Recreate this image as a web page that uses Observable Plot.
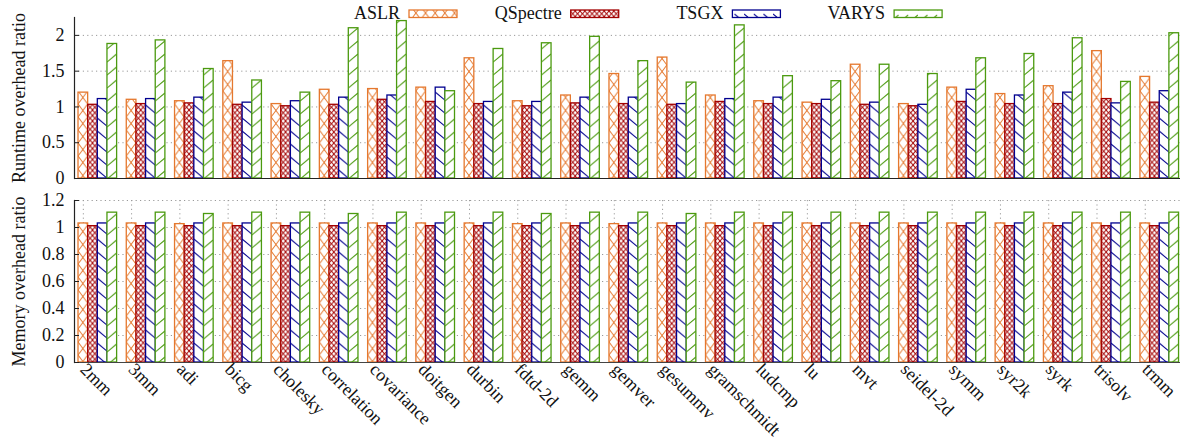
<!DOCTYPE html>
<html><head><meta charset="utf-8">
<script src="https://cdn.jsdelivr.net/npm/d3@7"></script>
<script src="https://cdn.jsdelivr.net/npm/@observablehq/plot@0.6"></script>
<style>
html,body{margin:0;padding:0;background:#fff;}
#wrap{position:relative;width:1180px;height:446px;font-family:"Liberation Serif",serif;overflow:hidden;}
#wrap svg{display:block;}
#legend{position:absolute;left:0;top:0;}
#defs{position:absolute;left:0;top:0;}
</style></head>
<body>
<svg id="defs" width="0" height="0"></svg>
<div id="wrap"><div id="topchart"></div><div id="bottomchart"></div><svg id="legend" width="1180" height="26"></svg></div>
<script>
const categories = ["2mm","3mm","adi","bicg","cholesky","correlation","covariance","doitgen","durbin","fdtd-2d","gemm","gemver","gesummv","gramschmidt","ludcmp","lu","mvt","seidel-2d","symm","syr2k","syrk","trisolv","trmm"];
const series = ["ASLR","QSpectre","TSGX","VARYS"];
const colors = ["#e5782e","#a30000","#00008f","#4b9a0f"];

const runtimeASLR     = [1.20,1.10,1.08,1.64,1.04,1.24,1.25,1.27,1.68,1.08,1.16,1.46,1.69,1.16,1.08,1.06,1.59,1.04,1.27,1.18,1.29,1.78,1.42];
const runtimeQSpectre = [1.03,1.04,1.05,1.03,1.01,1.03,1.10,1.07,1.04,1.01,1.05,1.04,1.03,1.07,1.04,1.04,1.03,1.01,1.07,1.04,1.04,1.11,1.06];
const runtimeTSGX     = [1.11,1.11,1.13,1.06,1.08,1.13,1.16,1.27,1.07,1.07,1.13,1.13,1.04,1.11,1.13,1.10,1.06,1.03,1.24,1.16,1.20,1.05,1.22];
const runtimeVARYS    = [1.88,1.93,1.53,1.37,1.20,2.10,2.20,1.22,1.81,1.89,1.98,1.64,1.34,2.14,1.43,1.36,1.59,1.46,1.68,1.74,1.96,1.35,2.03];

const memoryASLR     = [1.03,1.03,1.025,1.03,1.03,1.03,1.03,1.03,1.03,1.025,1.03,1.025,1.03,1.03,1.03,1.03,1.03,1.03,1.03,1.03,1.03,1.03,1.03];
const memoryQSpectre = [1.01,1.01,1.01,1.01,1.01,1.01,1.01,1.01,1.01,1.01,1.01,1.01,1.01,1.01,1.01,1.01,1.01,1.01,1.01,1.01,1.01,1.01,1.01];
const memoryTSGX     = [1.03,1.03,1.03,1.03,1.03,1.03,1.03,1.03,1.03,1.03,1.03,1.03,1.03,1.03,1.03,1.03,1.03,1.03,1.03,1.03,1.03,1.03,1.03];
const memoryVARYS    = [1.11,1.11,1.10,1.11,1.11,1.10,1.11,1.11,1.11,1.10,1.11,1.11,1.10,1.11,1.11,1.11,1.11,1.11,1.11,1.11,1.11,1.11,1.11];

const runtimeTicks = [0,0.5,1,1.5,2];
const memoryTicks = [0,0.2,0.4,0.6,0.8,1,1.2];

const runtimeVals = [runtimeASLR, runtimeQSpectre, runtimeTSGX, runtimeVARYS];
const memoryVals = [memoryASLR, memoryQSpectre, memoryTSGX, memoryVARYS];

function table(vals) {
  const out = [];
  series.forEach((s, k) => categories.forEach((c, i) => out.push({category: c, series: s, value: vals[k][i]})));
  return out;
}
const runtime = table(runtimeVals);
const memory = table(memoryVals);

// layout
const W = 1180, ML = 74, MR = 0;
const xOpts = {domain: categories, type: "band", paddingInner: 0.2, paddingOuter: 0.0565, align: 0.734, round: false, axis: null};
const band = d3.scaleBand(categories, [ML, W - MR]).paddingInner(0.2).paddingOuter(0.0565).align(0.734);
const bw = band.bandwidth() / series.length;
const x0 = band(categories[0]);

// hatch patterns
const defs = d3.select("#defs").append("defs");
function pat(id, w, h, color, paths) {
  const p = defs.append("pattern").attr("id", id).attr("patternUnits", "userSpaceOnUse")
    .attr("x", x0).attr("y", 0).attr("width", w).attr("height", h);
  p.append("rect").attr("width", w).attr("height", h).attr("fill", "white");
  paths.forEach(d => p.append("path").attr("d", d).attr("stroke", color).attr("stroke-width", 1).attr("fill", "none"));
}
pat("pat-0", bw, 13, colors[0], [`M0,0L${bw},13`, `M${bw},0L0,13`]);
pat("pat-1", bw/2, 5.5, colors[1], [`M0,0L${bw/2},5.5`, `M${bw/2},0L0,5.5`]);
pat("pat-2", bw, 13, colors[2], [`M0,1L${bw},${1+bw*0.85}`]);
pat("pat-3", bw, 13, colors[3], [`M0,${2+bw*0.85}L${bw},2`]);

const style = {fontFamily: "'Liberation Serif', serif", fontSize: "18px", background: "white", color: "#111", overflow: "visible"};
const dotted = {stroke: "#9a9a9a", strokeOpacity: 1, strokeDasharray: "1.2,3.2", strokeWidth: 1};

function bars(data) {
  return series.map((s, k) => Plot.barY(data.filter(d => d.series === s), {
    x: "category", y: "value",
    insetLeft: k * bw, insetRight: (series.length - 1 - k) * bw,
    fill: `url(#pat-${k})`, stroke: colors[k], strokeWidth: 1.3
  }));
}

const fmt = d3.format("~g");

const topPlot = Plot.plot({
  width: W, height: 186, marginLeft: ML, marginRight: MR, marginTop: 17, marginBottom: 8,
  style,
  x: xOpts,
  y: {domain: [0, 2.25]},
  marks: [
    Plot.gridY(runtimeTicks.slice(1), dotted),
    ...bars(runtime),
    Plot.ruleY([0], {stroke: "#222", strokeWidth: 1.2}),
    Plot.axisY(runtimeTicks, {tickSize: 0, tickPadding: 10, tickFormat: fmt, fontSize: 18,
      label: "Runtime overhead ratio", labelAnchor: "center", labelArrow: "none", labelOffset: 62}),
    Plot.axisY(runtimeTicks, {tickSize: 5, dx: 5, tickFormat: () => "", label: null, stroke: "#222"}),
    Plot.frame({anchor: "left", stroke: "#222", strokeWidth: 1.2})
  ]
});
document.getElementById("topchart").appendChild(topPlot);

const bottomPlot = Plot.plot({
  width: W, height: 260, marginLeft: ML, marginRight: MR, marginTop: 14, marginBottom: 84,
  style,
  x: xOpts,
  y: {domain: [0, 1.2]},
  marks: [
    Plot.gridY(memoryTicks.slice(1), dotted),
    Plot.gridX({...dotted, dx: -1.5 * bw}),
    ...bars(memory),
    Plot.ruleY([0], {stroke: "#444", strokeWidth: 1.2}),
    Plot.axisY(memoryTicks, {tickSize: 0, tickPadding: 10, tickFormat: fmt, fontSize: 18,
      label: "Memory overhead ratio", labelAnchor: "center", labelArrow: "none", labelOffset: 62}),
    Plot.axisY(memoryTicks, {tickSize: 5, dx: 5, tickFormat: () => "", label: null, stroke: "#222"}),
    Plot.axisX({tickSize: 0, tickRotate: 45, tickPadding: 4, dx: -1.5 * bw, fontSize: 18, label: null}),
    Plot.frame({anchor: "left", stroke: "#222", strokeWidth: 1.2})
  ]
});
document.getElementById("bottomchart").appendChild(bottomPlot);

// legend
const lg = d3.select("#legend").style("font-family", "'Liberation Serif', serif").style("font-size", "18px");
series.forEach((s, k) => {
  const bx = 409 + k * 161.7;
  lg.append("rect").attr("x", bx).attr("y", 10).attr("width", 48).attr("height", 7.5)
    .attr("fill", `url(#pat-${k})`).attr("stroke", colors[k]).attr("stroke-width", 1.3);
  lg.append("text").attr("x", bx - 9).attr("y", 18.5).attr("text-anchor", "end").attr("fill", "#111").text(s);
});
</script>
</body></html>
